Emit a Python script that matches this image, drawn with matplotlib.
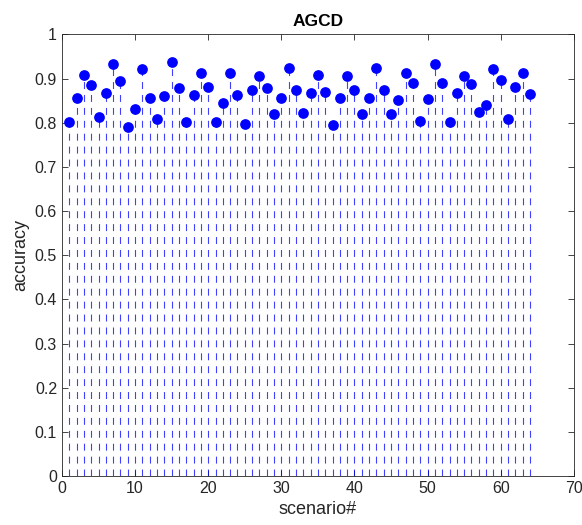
import matplotlib.pyplot as plt
import numpy as np

plt.rcParams['font.family'] = ['Liberation Sans', 'DejaVu Sans']
plt.rcParams['lines.scale_dashes'] = False

# accuracy per scenario
scenario = np.arange(1, 65)
accuracy = [0.802, 0.856, 0.907, 0.886, 0.812, 0.868, 0.932, 0.894, 0.791, 0.830,
            0.921, 0.856, 0.809, 0.860, 0.937, 0.878, 0.802, 0.862, 0.912, 0.880,
            0.801, 0.844, 0.913, 0.863, 0.796, 0.875, 0.905, 0.878, 0.819, 0.855,
            0.923, 0.875, 0.821, 0.867, 0.908, 0.869, 0.795, 0.856, 0.905, 0.874,
            0.819, 0.855, 0.925, 0.874, 0.819, 0.852, 0.912, 0.891, 0.803, 0.854,
            0.934, 0.891, 0.802, 0.867, 0.906, 0.888, 0.825, 0.839, 0.922, 0.897,
            0.809, 0.880, 0.912, 0.865]

fig = plt.figure(figsize=(5.82, 5.25), dpi=100)
ax = fig.add_axes([0.1065, 0.0933, 0.8795, 0.8412])

stems = ax.stem(scenario, accuracy, linefmt='b--', markerfmt='bo', basefmt=' ')
stems.markerline.set_markersize(6.7)
stems.stemlines.set_linewidth(0.8)
stems.stemlines.set_alpha(0.75)
stems.stemlines.set_linestyle((0, (5, 4.3)))

ax.set_xlim(0, 70)
ax.set_ylim(0, 1)
ax.set_xticks(np.arange(0, 71, 10))
ax.set_yticks(np.arange(0, 1.01, 0.1))
ax.set_yticklabels(['0', '0.1', '0.2', '0.3', '0.4', '0.5', '0.6', '0.7', '0.8', '0.9', '1'])
ax.tick_params(direction='in', labelsize=11.5, colors='#262626', length=4, width=0.6,
               top=True, right=True)
for s in ax.spines.values():
    s.set_color('#262626')
    s.set_linewidth(0.6)

ax.set_xlabel('scenario#', fontsize=13, color='#262626')
ax.set_ylabel('accuracy', fontsize=13, color='#262626')
ax.set_title('AGCD', fontsize=12.5, fontweight='bold')

plt.savefig('out.png')
